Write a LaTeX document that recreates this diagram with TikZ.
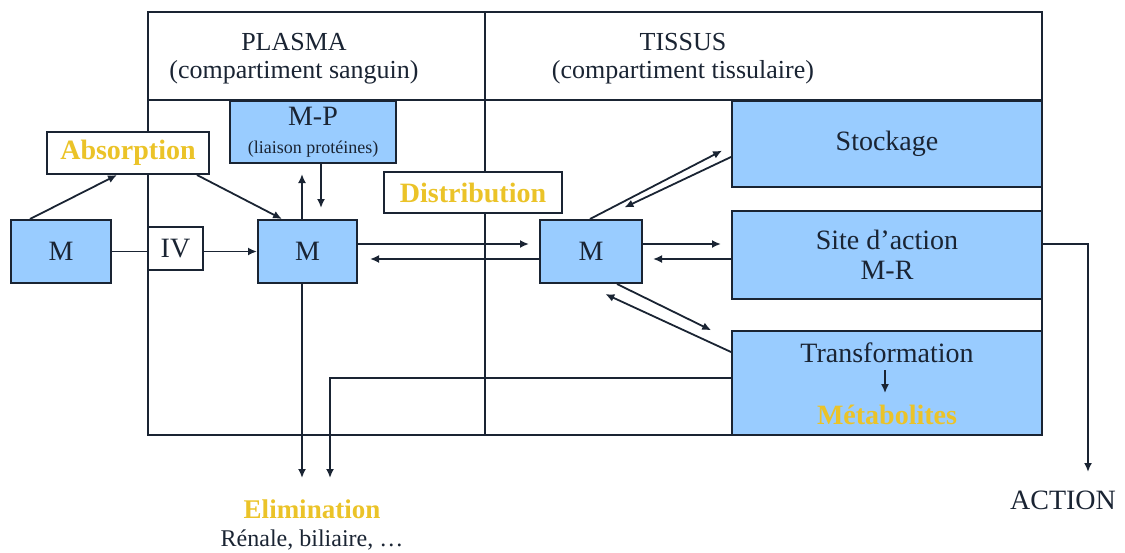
\documentclass[tikz,border=0pt]{standalone}
\usepackage{fontspec}
\setmainfont{Liberation Serif}
\usetikzlibrary{arrows.meta,calc}
\definecolor{boxblue}{HTML}{99CCFF}
\definecolor{gold}{HTML}{EBC328}
\definecolor{ink}{HTML}{1A2433}
\tikzset{
  bluebox/.style={draw=ink, fill=boxblue, line width=2pt, inner sep=0pt, text=ink, font=\fontsize{28}{30}\selectfont},
  whitebox/.style={draw=ink, fill=white, line width=2pt, inner sep=0pt, text=ink, font=\fontsize{28}{30}\selectfont},
  lbl/.style={inner sep=0pt, text=ink, font=\fontsize{28}{30}\selectfont},
  goldlbl/.style={inner sep=0pt, text=gold, font=\fontsize{28}{30}\selectfont\bfseries},
  arr/.style={draw=ink, line width=1.8pt, -{Latex[length=9pt,width=8pt]}},
  ln/.style={draw=ink, line width=1.8pt},
}
\begin{document}
\begin{tikzpicture}[x=1pt,y=-1pt]
\useasboundingbox (0,0) rectangle (1125,552);
% frame
\draw[ln] (148,12) rectangle (1042,435);
\draw[ln] (148,100) -- (1042,100);
\draw[ln] (485,12) -- (485,435);
% headers
\node[lbl, font=\fontsize{26}{28}\selectfont, align=center] (plasma) at (294,59) {PLASMA\\(compartiment sanguin)};
\node[lbl, font=\fontsize{26}{28}\selectfont, align=center] (tissus) at (683,59) {TISSUS\\(compartiment tissulaire)};
% boxes
\node[bluebox, minimum width=100pt, minimum height=63pt] (Ml) at (61,251.5) {M};
\node[whitebox, minimum width=55pt, minimum height=43pt] (IV) at (175.5,248.5) {IV};
\node[bluebox, minimum width=99pt, minimum height=63pt] (Mp) at (307.5,251.5) {M};
\node[bluebox, minimum width=166pt, minimum height=62pt, align=center] (MP) at (313,132) {M-P\\[-2pt]\fontsize{18}{20}\selectfont(liaison protéines)};
\node[whitebox, minimum width=162pt, minimum height=42pt, text=gold, font=\fontsize{28}{30}\selectfont\bfseries] (Abs) at (128,153) {Absorption};
\node[whitebox, minimum width=178pt, minimum height=41pt, text=gold, font=\fontsize{28}{30}\selectfont\bfseries] (Dist) at (473,192.5) {Distribution};
\node[bluebox, minimum width=102pt, minimum height=63pt] (Mt) at (591,251.5) {M};
\node[bluebox, minimum width=310pt, minimum height=86pt] (Sto) at (887,144) {Stockage};
\node[bluebox, minimum width=310pt, minimum height=88pt, align=center] (Site) at (887,255) {Site d’action\\M-R};
\node[bluebox, minimum width=310pt, minimum height=104pt] (Tr) at (887,383) {};
\node[lbl] (trt) at (887,353) {Transformation};
\node[goldlbl] (met) at (887,415) {Métabolites};
% outside labels
\node[goldlbl, font=\fontsize{27}{29}\selectfont\bfseries] (Elim) at (312,509) {Elimination};
\node[lbl, font=\fontsize{24}{26}\selectfont] (ren) at (312,540) {Rénale, biliaire, \ldots};
\node[lbl] (ACT) at (1063,500) {ACTION};
\coordinate (e1) at (302,478);
\coordinate (e2) at (330,478);
\coordinate (act) at (1088,472);
% connectors
\draw[arr, line width=1.5pt] ($(trt.center)+(-2,17)$) -- ($(met.center)+(-2,-22)$);
\draw[arr] ($(Ml.north)+(-31,0)$) -- ($(Abs.south)+(-11,0)$);
\draw[arr] ($(Abs.south)+(69,0)$) -- ($(Mp.north)+(-25.5,0)$);
\draw[ln] (Ml.east) -- (Ml.east -| IV.west);
\draw[arr] (Mp.west -| IV.east) -- (Mp.west);
\draw[arr, shorten >=10pt] ($(Mp.north)+(-5.5,0)$) -- ($(MP.south)+(-11,0)$);
\draw[arr, shorten >=11pt] ($(MP.south)+(8,0)$) -- ($(Mp.north)+(13.5,0)$);
\draw[arr, shorten >=10pt] ($(Mp.east)+(0,-7.5)$) -- ($(Mt.west)+(0,-7.5)$);
\draw[arr, shorten >=12pt] ($(Mt.west)+(0,7.5)$) -- ($(Mp.east)+(0,7.5)$);
\draw[arr, shorten >=10pt] ($(Mt.east)+(0,-7.5)$) -- ($(Site.west)+(0,-11)$);
\draw[arr, shorten >=10pt] ($(Site.west)+(0,4)$) -- ($(Mt.east)+(0,7.5)$);
\draw[arr, shorten >=10pt] ($(Mt.north)+(-1,0)$) -- ($(Sto.west)+(0,2)$);
\draw[arr, shorten >=27pt] ($(Sto.west)+(0,13)$) -- ($(Mt.north)+(9,0)$);
\draw[arr, shorten >=22pt] ($(Mt.south)+(26,0)$) -- ($(Tr.west)+(0,-43)$);
\draw[arr, shorten >=24pt] ($(Tr.west)+(0,-31)$) -- ($(Mt.south)+(-7.5,0)$);
\draw[arr] ($(Site.east)+(0,-11)$) -| (act);
\draw[arr] ($(Mp.south)+(-5.5,0)$) -- (e1);
\draw[arr] ($(Tr.west)+(0,-5)$) -| (e2);
\end{tikzpicture}
\end{document}
